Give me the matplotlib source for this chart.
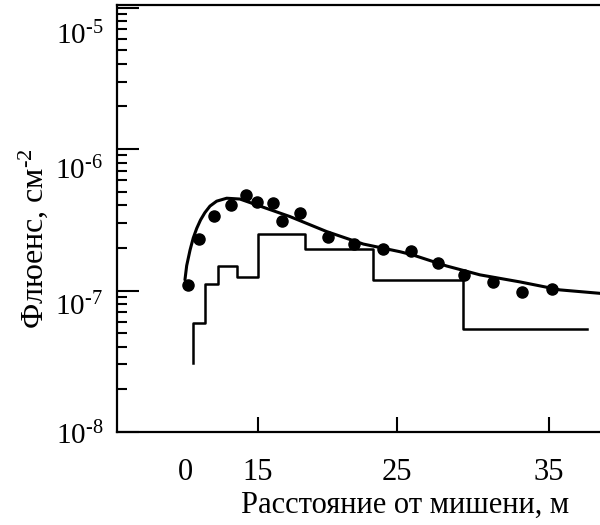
import matplotlib
matplotlib.use('Agg')
import matplotlib.pyplot as plt
import matplotlib.transforms as mtransforms
import numpy as np

# measured points (distance axis as drawn, fluence in cm^-2)
dot_x = [10.21, 10.97, 12.00, 13.14, 14.18, 14.91, 16.01, 16.65, 17.91,
         19.79, 21.60, 23.57, 25.49, 27.39, 29.16, 31.17, 33.16, 35.19]
dot_y = [1.09e-7, 2.30e-7, 3.37e-7, 4.02e-7, 4.73e-7, 4.20e-7, 4.17e-7, 3.11e-7, 3.55e-7,
         2.38e-7, 2.13e-7, 1.96e-7, 1.91e-7, 1.57e-7, 1.29e-7, 1.15e-7, 9.75e-8, 1.03e-7]

# calculated curve
curve_x = [9.98, 10.10, 10.33, 10.55, 10.79, 11.05, 11.35, 11.70, 12.16, 12.85, 13.76, 15.14,
           17.20, 19.72, 22.24, 24.76, 25.67, 27.97, 30.26, 33.01, 35.76, 38.51, 38.95]
curve_y = [1.19e-7, 1.50e-7, 1.93e-7, 2.35e-7, 2.75e-7, 3.15e-7, 3.55e-7, 3.95e-7, 4.28e-7,
           4.49e-7, 4.43e-7, 3.95e-7, 3.33e-7, 2.61e-7, 2.13e-7, 1.88e-7, 1.78e-7, 1.49e-7,
           1.29e-7, 1.15e-7, 1.01e-7, 9.55e-8, 9.5e-8]

# histogram
hist_edges = [10.51, 11.36, 12.27, 13.58, 15.02, 18.23, 22.88, 29.07, 37.59]
hist_levels = [5.86e-8, 1.12e-7, 1.50e-7, 1.25e-7, 2.51e-7, 1.95e-7, 1.18e-7, 5.35e-8]
hist_start = 3.09e-8

xtick_pos = [10, 15, 24.55, 35]
xtick_labels = ['0', '15', '25', '35']
ytick_pos = [1e-5, 1e-6, 1e-7, 1e-8]
ytick_labels = ['$10^{\u2010' + e + '}$' for e in ['5', '6', '7', '8']]
ylabel_shift_px = [26, 19, 14, 1]

plt.rcParams['font.family'] = 'Liberation Serif'
plt.rcParams['mathtext.fontset'] = 'custom'
plt.rcParams['mathtext.rm'] = 'Liberation Serif'
plt.rcParams['mathtext.it'] = 'Liberation Serif:italic'
plt.rcParams['mathtext.bf'] = 'Liberation Serif:bold'
plt.rcParams['mathtext.default'] = 'regular'

fig = plt.figure(figsize=(6, 5.25), dpi=100)
ax = fig.add_axes([117 / 600, 1 - 432 / 525, 489 / 600, 427 / 525])

ax.plot(curve_x, curve_y, color='black', lw=2.2, solid_capstyle='round', solid_joinstyle='round')
ax.plot(dot_x, dot_y, 'o', color='black', ms=8)
sx = [hist_edges[0]] + hist_edges
sy = [hist_start] + hist_levels + [hist_levels[-1]]
ax.step(sx, sy, where='post', color='black', lw=1.8)

ax.set_yscale('log')
ax.set_xlim(5.31, 38.92)
ax.set_ylim(1e-8, 1.042e-5)

for side in ['left', 'bottom', 'top']:
    ax.spines[side].set_linewidth(1.6)
ax.spines['right'].set_visible(False)

ax.set_xticks(xtick_pos)
ax.set_xticklabels(xtick_labels, fontsize=22)
ax.xaxis.get_major_ticks()[0].tick1line.set_visible(False)
ax.tick_params(axis='x', direction='in', length=11, width=1.5, pad=19)

ax.set_yticks(ytick_pos)
ax.set_yticklabels(ytick_labels, fontsize=21)
ax.tick_params(axis='y', which='major', direction='in', length=16, width=1.5, pad=10)
ax.tick_params(axis='y', which='minor', direction='in', length=7, width=1.5)
for lbl, dy in zip(ax.get_yticklabels(), ylabel_shift_px):
    lbl.set_transform(lbl.get_transform() +
                      mtransforms.ScaledTranslation(0, -dy / 100, fig.dpi_scale_trans))

ax.set_xlabel('Расстояние от мишени, м', fontsize=22)
ax.xaxis.set_label_coords(0.589, -0.171)
ax.xaxis.label.set_va('center')
ax.set_ylabel('Флюенс, см$^{\u2010' + '2}$', fontsize=23)
ax.yaxis.set_label_coords(-0.172, 0.454)
ax.yaxis.label.set_va('center')

fig.savefig('out.png', dpi=100)
